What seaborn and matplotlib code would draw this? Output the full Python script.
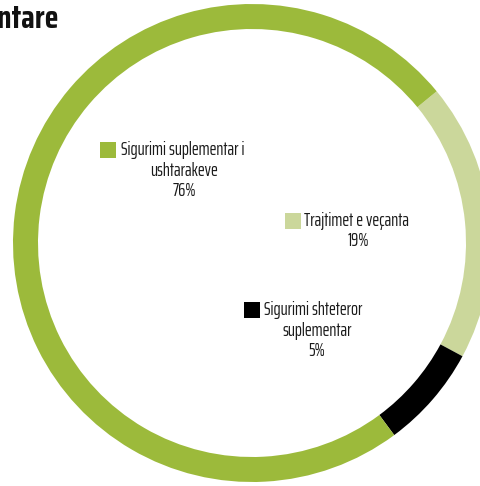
import matplotlib
matplotlib.use("Agg")
import matplotlib.pyplot as plt
import seaborn as sns

sns.set_theme(style="white")
plt.rcParams['font.family'] = ['Saira ExtraCondensed', 'DejaVu Sans']

''' Data read off the ring (clockwise from the green/light border) '''
categories = ['Trajtimet e veçanta', 'Sigurimi shteteror suplementar',
              'Sigurimi suplementar i ushtarakeve']
shares = [18.8, 7.0, 74.2]
pct_labels = ['19%', '5%', '76%']
label_lines = [['Trajtimet e veçanta'],
               ['Sigurimi shteteror', 'suplementar'],
               ['Sigurimi suplementar i', 'ushtarakeve']]
colors = ['#cbd79b', '#000000', '#9cba3b']
title = 'Skemat suplementare'

W, H = 481, 486
fig = plt.figure(figsize=(W / 100, H / 100), dpi=100)
ax = fig.add_axes([0, 0, 1, 1])

# ring, pixel units, centre at (252, 243) from top-left
cx, cy, r = 252, H - 243, 239
ax.pie(shares, colors=colors, startangle=39.4, counterclock=False,
       radius=r, center=(cx, cy),
       wedgeprops=dict(width=25, edgecolor='none', linewidth=0))
ax.set_xlim(0, W)
ax.set_ylim(0, H)
ax.set_aspect('auto')
ax.axis('off')

# label layout: square centre, first line left x, other lines centre x (top-down px)
layout = [((293, 221), 304, 358),
          ((252, 310), 264, 317),
          ((108, 150), 121, 184)]
step = 20.5
for (sq, x0, xc), lines, pct, col in zip(layout, label_lines, pct_labels, colors):
    sx, sy = sq
    ax.scatter([sx], [H - sy], marker='s', s=125, color=col, linewidths=0)
    ax.text(x0, H - sy, lines[0], ha='left', va='center',
            fontsize=13.2, color='#1a1a1a')
    rest = lines[1:] + [pct]
    for i, t in enumerate(rest):
        ax.text(xc, H - sy - step * (i + 1), t, ha='center', va='center',
                fontsize=13.2, color='#1a1a1a')

ax.text(58, H - 19, title, ha='right', va='center', fontsize=23,
        fontweight='bold', color='#111111', family='Saira Condensed')

fig.savefig('out.png', dpi=100)
